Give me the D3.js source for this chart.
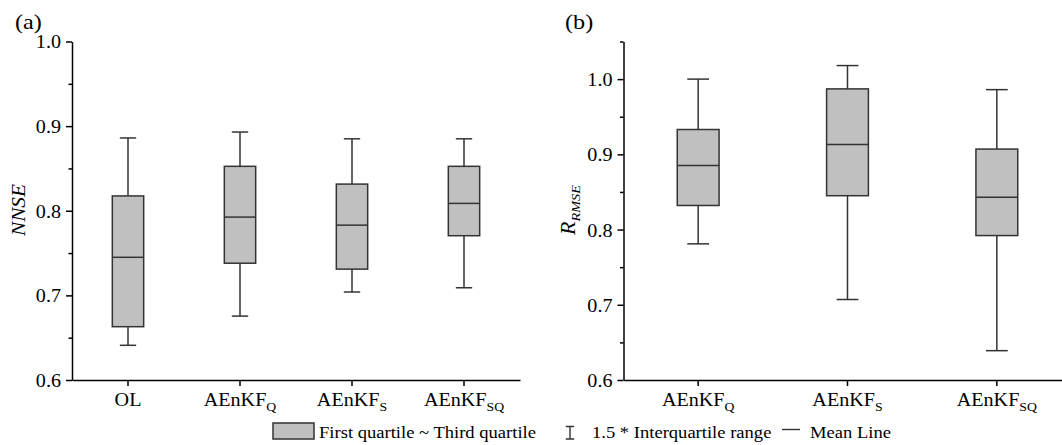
<!DOCTYPE html>
<html>
<head>
<meta charset="utf-8">
<script src="https://cdn.jsdelivr.net/npm/d3@7"></script>
<style>
  html, body { margin: 0; padding: 0; background: #fff; }
  svg { display: block; font-family: "Liberation Serif", "Times New Roman", serif; }
</style>
</head>
<body>
<svg id="chart" width="1062" height="445"></svg>
<script>
// Panel (a): NNSE distributions per experiment
const categoriesA = ["OL", "AEnKF_Q", "AEnKF_S", "AEnKF_SQ"];
const nnseLower  = [0.641, 0.6755, 0.704, 0.709];
const nnseQ1     = [0.663, 0.738, 0.731, 0.7705];
const nnseMean   = [0.745, 0.7925, 0.783, 0.8087];
const nnseQ3     = [0.8175, 0.8525, 0.8315, 0.8525];
const nnseUpper  = [0.886, 0.893, 0.885, 0.885];

// Panel (b): R_RMSE distributions per experiment
const categoriesB = ["AEnKF_Q", "AEnKF_S", "AEnKF_SQ"];
const rrmseLower = [0.781, 0.707, 0.639];
const rrmseQ1    = [0.832, 0.845, 0.792];
const rrmseMean  = [0.885, 0.913, 0.843];
const rrmseQ3    = [0.933, 0.987, 0.907];
const rrmseUpper = [1.0, 1.018, 0.986];

// Axis ticks
const majorTicks = [0.6, 0.7, 0.8, 0.9, 1.0];
const minorTicksA = [0.65, 0.75, 0.85, 0.95];
const minorTicksB = [0.65, 0.75, 0.85, 0.95, 1.05];
const domainA = [0.6, 1.0];
const domainB = [0.6, 1.05];

const legendLabels = ["First quartile ~ Third quartile", "1.5 * Interquartile range", "Mean Line"];

const svg = d3.select("#chart");
const SX = 1.06;           // slight horizontal stretch of the serif face
const FS = "19px";
const boxFill = "#c0c0c0";
const boxStroke = "#333333";

function rows(cats, lo, q1, mean, q3, hi) {
  return cats.map((c, i) => ({ cat: c, lo: lo[i], q1: q1[i], mean: mean[i], q3: q3[i], hi: hi[i] }));
}

function labelParts(c) {
  const [base, sub] = c.split("_");
  return { base, sub: sub || "" };
}

function drawPanel(opt) {
  const g = svg.append("g");
  const x = d3.scaleBand().domain(opt.cats).range(opt.xRange).paddingInner(0).paddingOuter(0);
  const y = d3.scaleLinear().domain(opt.domain).range([380, 41.5]);
  const bw = x.bandwidth();

  // boxes with whiskers and mean line
  const data = rows(opt.cats, ...opt.series);
  const box = g.selectAll("g.box").data(data).join("g")
    .attr("class", "box")
    .attr("transform", d => `translate(${x(d.cat) + bw / 2},0)`);
  const half = bw * 0.14, cap = bw * 0.073;

  box.append("line").attr("x1", 0).attr("x2", 0)
    .attr("y1", d => y(d.hi)).attr("y2", d => y(d.q3))
    .attr("stroke", boxStroke).attr("stroke-width", 1.5);
  box.append("line").attr("x1", 0).attr("x2", 0)
    .attr("y1", d => y(d.q1)).attr("y2", d => y(d.lo))
    .attr("stroke", boxStroke).attr("stroke-width", 1.5);
  box.append("line").attr("x1", -cap).attr("x2", cap)
    .attr("y1", d => y(d.hi)).attr("y2", d => y(d.hi))
    .attr("stroke", boxStroke).attr("stroke-width", 1.5);
  box.append("line").attr("x1", -cap).attr("x2", cap)
    .attr("y1", d => y(d.lo)).attr("y2", d => y(d.lo))
    .attr("stroke", boxStroke).attr("stroke-width", 1.5);
  box.append("rect")
    .attr("x", -half).attr("width", 2 * half)
    .attr("y", d => y(d.q3)).attr("height", d => y(d.q1) - y(d.q3))
    .attr("fill", boxFill).attr("stroke", boxStroke).attr("stroke-width", 1.5);
  box.append("line").attr("x1", -half).attr("x2", half)
    .attr("y1", d => y(d.mean)).attr("y2", d => y(d.mean))
    .attr("stroke", boxStroke).attr("stroke-width", 1.5);

  // y axis: major ticks with labels, minor ticks without
  const yAxis = g.append("g").attr("transform", `translate(${opt.xRange[0]},0)`)
    .call(d3.axisLeft(y).tickValues(majorTicks).tickSize(6).tickSizeOuter(0).tickFormat(d3.format(".1f")));
  yAxis.selectAll("text")
    .attr("x", -10.4).attr("dy", "0.34em")
    .attr("transform", `scale(${SX},1)`)
    .style("font-size", FS).style("font-family", "Liberation Serif").attr("fill", "#000");
  g.append("g").attr("transform", `translate(${opt.xRange[0]},0)`)
    .call(d3.axisLeft(y).tickValues(opt.minor).tickSize(3.5).tickFormat(""))
    .call(a => a.select(".domain").remove());

  // x axis with subscripted category names
  const xAxis = g.append("g").attr("transform", "translate(0,380)")
    .call(d3.axisBottom(x).tickSize(6).tickSizeOuter(0));
  xAxis.selectAll(".tick text").each(function (c) {
    const t = d3.select(this).text(null)
      .attr("y", 26).attr("dy", null)
      .attr("transform", `scale(${SX},1)`)
      .style("font-size", FS).style("font-family", "Liberation Serif").attr("fill", "#000");
    const p = labelParts(c);
    t.append("tspan").text(p.base);
    if (p.sub) t.append("tspan").attr("dy", 5).style("font-size", "13px").text(p.sub);
  });

  g.selectAll(".domain, .tick line").attr("stroke", "#000").attr("stroke-width", 1.5);

  // panel tag
  g.append("text").attr("transform", `translate(${opt.tagX},29) scale(1.1,1)`)
    .style("font-size", "22px").text(opt.tag);

  return g;
}

const gA = drawPanel({
  cats: categoriesA, xRange: [72, 520], domain: domainA, minor: minorTicksA,
  series: [nnseLower, nnseQ1, nnseMean, nnseQ3, nnseUpper], tag: "(a)", tagX: 15
});
gA.append("text")
  .attr("transform", `translate(25,210) rotate(-90) scale(1.12,1)`)
  .attr("text-anchor", "middle").style("font-size", "19px").style("font-style", "italic")
  .text("NNSE");

const gB = drawPanel({
  cats: categoriesB, xRange: [623.5, 1071.5], domain: domainB, minor: minorTicksB,
  series: [rrmseLower, rrmseQ1, rrmseMean, rrmseQ3, rrmseUpper], tag: "(b)", tagX: 565
});
const rl = gB.append("text")
  .attr("transform", `translate(575,210) rotate(-90) scale(1.1,1)`)
  .attr("text-anchor", "middle").style("font-size", "20px").style("font-style", "italic");
rl.append("tspan").text("R");
rl.append("tspan").attr("dy", 5).style("font-size", "13px").text("RMSE");

// legend
const lg = svg.append("g");
lg.append("rect").attr("x", 273).attr("y", 423).attr("width", 41).attr("height", 16)
  .attr("fill", boxFill).attr("stroke", boxStroke).attr("stroke-width", 1.5);
lg.append("text").attr("transform", `translate(319,438) scale(1.08,1)`)
  .style("font-size", "17.2px").text(legendLabels[0]);
const wx = 570;
lg.append("path").attr("d", `M${wx - 4.2},426.5 H${wx + 4.2} M${wx},426.5 V439 M${wx - 4.2},439 H${wx + 4.2}`)
  .attr("stroke", boxStroke).attr("stroke-width", 1.4).attr("fill", "none");
lg.append("text").attr("transform", `translate(592,438) scale(1.08,1)`)
  .style("font-size", "17.2px").text(legendLabels[1]);
lg.append("line").attr("x1", 782).attr("x2", 800).attr("y1", 429.5).attr("y2", 429.5)
  .attr("stroke", boxStroke).attr("stroke-width", 1.4);
lg.append("text").attr("transform", `translate(810,438) scale(1.08,1)`)
  .style("font-size", "17.2px").text(legendLabels[2]);
</script>
</body>
</html>
